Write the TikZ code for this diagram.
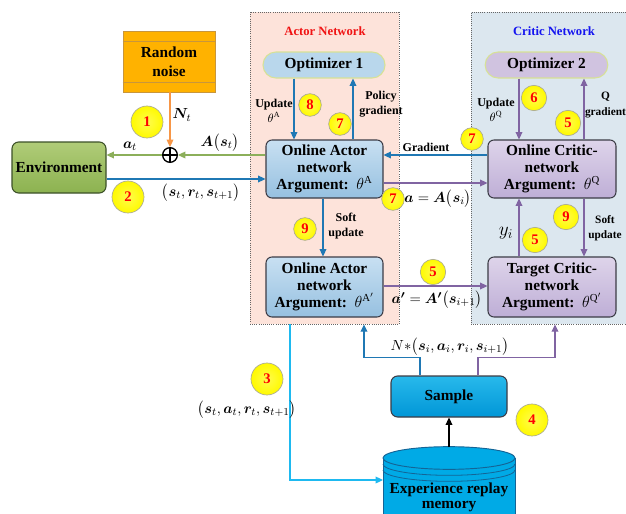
\documentclass[tikz,border=0pt]{standalone}
\usepackage{amsmath,bm}
\usepackage{fontspec}
\setmainfont{Liberation Serif}
\usetikzlibrary{arrows.meta,calc}
\definecolor{actorpink}{RGB}{253,227,218}
\definecolor{criticblue}{RGB}{220,231,239}
\definecolor{actTop}{RGB}{200,224,242}
\definecolor{actBot}{RGB}{150,192,224}
\definecolor{critTop}{RGB}{222,212,234}
\definecolor{critBot}{RGB}{190,174,214}
\definecolor{boxedge}{RGB}{60,60,70}
\definecolor{arrBlue}{RGB}{31,120,180}
\definecolor{arrPurple}{RGB}{128,100,162}
\definecolor{arrGreen}{RGB}{140,175,90}
\definecolor{arrOrange}{RGB}{247,150,70}
\definecolor{arrCyan}{RGB}{30,185,240}
\definecolor{noiseFill}{RGB}{255,178,0}
\definecolor{noiseEdge}{RGB}{200,150,60}
\definecolor{envTop}{RGB}{176,204,120}
\definecolor{envBot}{RGB}{140,178,80}
\definecolor{envEdge}{RGB}{60,80,40}
\definecolor{sampTop}{RGB}{40,185,235}
\definecolor{sampBot}{RGB}{0,150,215}
\definecolor{memFill}{RGB}{0,170,230}
\definecolor{memEdge}{RGB}{20,100,150}
\definecolor{numFill}{RGB}{255,250,0}
\definecolor{numEdge}{RGB}{170,170,150}
\definecolor{pillEdge}{RGB}{215,225,150}
\definecolor{opt1Fill}{RGB}{185,215,236}
\definecolor{opt2Fill}{RGB}{208,195,224}
\definecolor{titleRed}{RGB}{240,20,20}
\definecolor{titleBlue}{RGB}{20,20,240}
\tikzset{
  bigbox/.style={draw=boxedge, rounded corners=4.5pt, line width=0.8pt, align=center,
    font=\bfseries\fontsize{11.5}{12.5}\selectfont, inner sep=0pt},
  actbox/.style={bigbox, top color=actTop, bottom color=actBot},
  critbox/.style={bigbox, top color=critTop, bottom color=critBot},
  pill/.style={draw=pillEdge, line width=0.8pt, rounded corners=9.7pt,
    font=\bfseries\fontsize{11.5}{12.5}\selectfont, inner sep=0pt,
    minimum height=19.5pt},
  container/.style={draw=gray!80!black, densely dotted, line width=0.6pt, inner sep=0pt},
  num/.style={circle, draw=numEdge, line width=0.5pt, inner color=numFill!70!white, outer color=numFill,
    text=red, font=\bfseries\fontsize{11}{11}\selectfont, inner sep=0pt},
  bignum/.style={num, minimum size=24pt},
  smallnum/.style={num, minimum size=17pt},
  lab/.style={font=\bfseries\fontsize{9}{11.5}\selectfont, align=center, inner sep=0pt},
  mlab/.style={font=\fontsize{11}{13}\selectfont, inner sep=0pt},
  arr/.style={-{Triangle[length=5.5pt,width=5pt]}, line width=0.9pt},
}
\begin{document}
\begin{tikzpicture}[x=0.75pt,y=-0.75pt]
\clip (0,0) rectangle (626,514);
\fill[white] (0,0) rectangle (626,514);

% containers
\node[container, fill=actorpink, minimum width=111.75pt, minimum height=234pt] (actorbox) at (324.5,168) {};
\node[container, fill=criticblue, minimum width=126.75pt, minimum height=234pt] (criticbox) at (555.5,168) {};
\node[font=\bfseries\fontsize{9.5}{11}\selectfont, text=titleRed, inner sep=0pt] (actortitle) at (325,31) {Actor Network};
\node[font=\bfseries\fontsize{9.5}{11}\selectfont, text=titleBlue, inner sep=0pt] (critictitle) at (554,31) {Critic Network};

% x / y helper coordinates
\coordinate (x290) at (290,0);
\coordinate (x294) at (294,0);
\coordinate (x323) at (323,0);
\coordinate (x353) at (353,0);
\coordinate (x364) at (364,0);
\coordinate (x420) at (420,0);
\coordinate (x478) at (478,0);
\coordinate (x519) at (519,0);
\coordinate (x555) at (555,0);
\coordinate (x584) at (584,0);
\coordinate (y155) at (0,155);
\coordinate (y179) at (0,179);
\coordinate (y183) at (0,183);
\coordinate (y286) at (0,286);

% random noise
\node[draw=noiseEdge, fill=noiseFill, line width=0.6pt, minimum width=69pt, minimum height=45.75pt,
  align=center, font=\bfseries\fontsize{11.5}{14}\selectfont, inner sep=0pt] (noise) at (169,61.5) {Random\\noise};
\draw[noiseEdge, line width=0.5pt] ($(noise.north west)!0.18!(noise.south west)$) -- ($(noise.north east)!0.18!(noise.south east)$);
\draw[noiseEdge, line width=0.5pt] ($(noise.north west)!0.836!(noise.south west)$) -- ($(noise.north east)!0.836!(noise.south east)$);

% environment
\node[draw=envEdge, top color=envTop, bottom color=envBot, rounded corners=5pt, line width=0.8pt,
  minimum width=70.5pt, minimum height=38.25pt, font=\bfseries\fontsize{11.5}{12.5}\selectfont, inner sep=0pt] (env) at (59,167.5) {Environment};

% sum junction
\node[circle, draw=black, line width=1pt, minimum size=11pt, inner sep=0pt] (plus) at (170,155) {};
\draw[line width=1pt] (plus.north) -- (plus.south) (plus.west) -- (plus.east);

% actor side
\node[pill, fill=opt1Fill, minimum width=91.5pt] (opt1) at (324,65) {Optimizer 1};
\node[actbox, minimum width=87.75pt, minimum height=43.5pt] (actA) at (324.5,169) {Online Actor\\network\\Argument:\ \ $\theta^{\mathrm{A}}$};
\node[actbox, minimum width=87.75pt, minimum height=45pt] (tgtA) at (324.5,287) {Online Actor\\network\\Argument:\ \ $\theta^{\mathrm{A'}}$};

% critic side
\node[pill, fill=opt2Fill, minimum width=92pt] (opt2) at (546.5,65) {Optimizer 2};
\node[critbox, minimum width=96pt, minimum height=43.5pt] (actC) at (552,169) {Online Critic-\\network\\Argument:\ \ $\theta^{\mathrm{Q}}$};
\node[critbox, minimum width=96pt, minimum height=45pt] (tgtC) at (552,287) {Target Critic-\\network\\Argument:\ \ $\theta^{\mathrm{Q'}}$};

% sample
\node[draw=boxedge, top color=sampTop, bottom color=sampBot, rounded corners=5pt, line width=0.8pt,
  minimum width=87pt, minimum height=30.75pt, font=\bfseries\fontsize{11.5}{12.5}\selectfont, inner sep=0pt] (sample) at (449,396.5) {Sample};

% replay memory cylinder
\fill[memFill] (383,458) -- (383,540) -- (515,540) -- (515,458) -- cycle;
\draw[memEdge, line width=0.7pt] (383,458) -- (383,540) (515,458) -- (515,540);
\draw[memEdge, line width=0.7pt, fill=memFill] (449,458) ellipse [x radius=49.5pt, y radius=8.5pt];
\draw[memEdge, line width=0.6pt] (383,464) arc[start angle=180, end angle=360, x radius=49.5pt, y radius=8.5pt];
\draw[memEdge, line width=0.6pt] (383,470) arc[start angle=180, end angle=360, x radius=49.5pt, y radius=8.5pt];
\coordinate (memtop) at (449,447);
\coordinate (memL) at (383,480);
\node[font=\bfseries\fontsize{11.5}{11.5}\selectfont, align=center, inner sep=0pt] (mem) at (449,497) {Experience replay\\memory};

% arrows
\draw[arr, arrOrange] (noise.south -| plus) -- (plus);
\draw[arr, arrGreen] (actA.west |- y155) -- (plus);
\draw[arr, arrGreen] (plus) -- (env.east |- y155);
\draw[arr, arrBlue] (env.east |- y179) -- (actA.west |- y179);
\draw[arr, arrBlue] (opt1.south -| x294) -- (actA.north -| x294);
\draw[arr, arrBlue] (actA.north -| x353) -- (opt1.south -| x353);
\draw[arr, arrBlue] (actC.west |- y155) -- (actA.east |- y155);
\draw[arr, arrPurple] (actA.east |- y183) -- (actC.west |- y183);
\draw[arr, arrBlue] (actA.south -| x323) -- (tgtA.north -| x323);
\draw[arr, arrPurple] (tgtA.east |- y286) -- (tgtC.west |- y286);
\draw[arr, arrPurple] (opt2.south -| x519) -- (actC.north -| x519);
\draw[arr, arrPurple] (actC.north -| x584) -- (opt2.south -| x584);
\draw[arr, arrPurple] (tgtC.north -| x519) -- (actC.south -| x519);
\draw[arr, arrPurple] (actC.south -| x584) -- (tgtC.north -| x584);
\draw[arr, arrBlue] (sample.north -| x420) -- ++(0,-18) -| (actorbox.south -| x364);
\draw[arr, arrPurple] (sample.north -| x478) -- ++(0,-18) -| (criticbox.south -| x555);
\draw[arr, black] (memtop) -- (sample.south -| memtop);
\draw[arr, arrCyan] (actorbox.south -| x290) |- (memL);

% numbered circles
\node[bignum] (n1) at (147,122) {1};
\node[bignum] (n2) at (128,197) {2};
\node[bignum] (n3) at (267,379) {3};
\node[bignum] (n4) at (532,420) {4};
\node[smallnum] (n8) at (310,105) {8};
\node[smallnum] (n7a) at (340,124) {7};
\node[smallnum] (n7b) at (472,139) {7};
\node[smallnum] (n7c) at (393,199) {7};
\node[smallnum] (n9a) at (305,229) {9};
\node[num, minimum size=19pt] (n6) at (534,98) {6};
\node[num, minimum size=19pt] (n5a) at (568,123) {5};
\node[num, minimum size=19pt] (n9b) at (566,217) {9};
\node[num, minimum size=19pt] (n5b) at (535,240) {5};
\node[num, minimum size=19pt] (n5c) at (433,272) {5};

% text labels
\node[lab] (lupd1) at (274,111) {Update\\$\theta^{\mathrm{A}}$};
\node[lab] (lpol) at (381,104) {Policy\\gradient};
\node[lab] (lgrad) at (426,147) {Gradient};
\node[lab] (lupd2) at (496,110) {Update\\$\theta^{\mathrm{Q}}$};
\node[lab, font=\bfseries\fontsize{8.5}{11.5}\selectfont] (lqg) at (605.5,105) {Q\\gradient};
\node[lab] (lsoft1) at (346,226) {Soft\\update};
\node[lab, font=\bfseries\fontsize{8.5}{11.5}\selectfont] (lsoft2) at (605,228) {Soft\\update};
\node[mlab] (lNt) at (182,115) {$\bm{N}_{t}$};
\node[mlab] (lAst) at (220,143) {$\bm{A}\big(\bm{s}_{t}\big)$};
\node[mlab] (lat) at (130,146) {$\bm{a}_{t}$};
\node[mlab] (lsrs) at (201,193) {$\big(\bm{s}_{t},\bm{r}_{t},\bm{s}_{t+1}\big)$};
\node[mlab] (lsars) at (247,410) {$\big(\bm{s}_{t},\bm{a}_{t},\bm{r}_{t},\bm{s}_{t+1}\big)$};
\node[mlab] (laA) at (438,199) {$\bm{a}=\bm{A}\big(\bm{s}_{i}\big)$};
\node[mlab] (lapA) at (437,300) {$\bm{a'}=\bm{A'}\big(\bm{s}_{i+1}\big)$};
\node[mlab] (lNs) at (450,347) {$N{*}\big(\bm{s}_{i},\bm{a}_{i},\bm{r}_{i},\bm{s}_{i+1}\big)$};
\node[font=\fontsize{14}{16}\selectfont, inner sep=0pt] (lyi) at (506,233) {$y_{i}$};
\end{tikzpicture}
\end{document}
